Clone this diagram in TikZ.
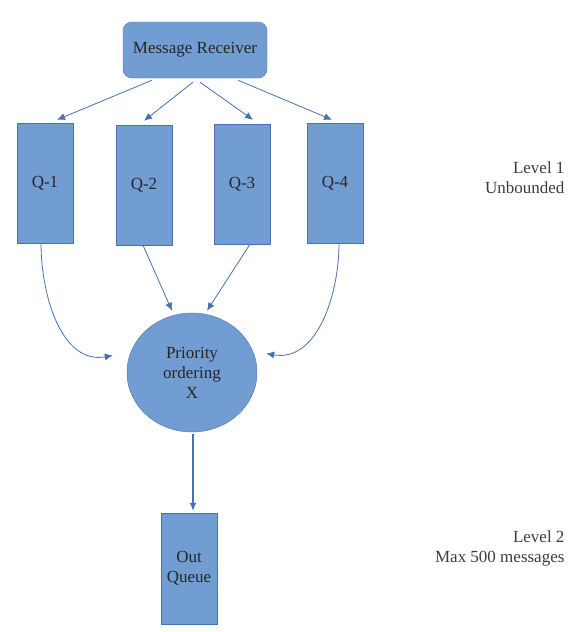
\documentclass[tikz,border=0pt]{standalone}
\usepackage{fontspec}
\setmainfont{Liberation Serif}
\usetikzlibrary{arrows.meta,shapes.geometric}
\definecolor{boxfill}{RGB}{114,157,211}
\definecolor{boxline}{RGB}{72,114,173}
\definecolor{arrowline}{RGB}{70,112,176}
\definecolor{labeltext}{RGB}{60,60,60}
\begin{document}
\begin{tikzpicture}[x=1pt,y=1pt,
    font=\fontsize{17}{20}\selectfont,
    >={Latex[length=8pt,width=7pt]},
    queuebox/.style={shape=rectangle,draw=boxline,fill=boxfill,minimum width=56pt,minimum height=120pt,inner sep=0pt,text=black!85},
    flow/.style={color=arrowline,line width=0.8pt}]
    \useasboundingbox (0,0) rectangle (580,-632);
    \node[shape=rectangle,rounded corners=9pt,draw=boxline,fill=boxfill,minimum width=144pt,minimum height=56pt,inner sep=0pt,text=black!85] (Message Receiver) at (195,-50) {Message Receiver};
    \node[queuebox] (Q-1) at (45,-183) {Q-1};
    \node[queuebox] (Q-2) at (144,-185) {Q-2};
    \node[queuebox] (Q-3) at (242,-184) {Q-3};
    \node[queuebox] (Q-4) at (335,-183) {Q-4};
    \node[shape=ellipse,draw=boxline,fill=boxfill,minimum width=130pt,minimum height=119pt,inner sep=0pt,align=center,text=black!85] (Priority ordering) at (192,-372.5) {Priority\\ordering\\X};
    \node[queuebox,minimum height=111pt,align=center] (Out Queue) at (189,-568.5) {Out\\Queue};
    \node[align=right,anchor=east,text=labeltext] (Level 1) at (568,-178) {Level 1\\Unbounded};
    \node[align=right,anchor=east,text=labeltext] (Level 2) at (568,-548) {Level 2\\Max 500 messages};


    \path [->,flow] ([xshift=-43pt,yshift=-2pt]Message Receiver.south) edge node {} ([xshift=12pt,yshift=3pt]Q-1.north);
    \path [->,flow] ([xshift=-2pt,yshift=-4pt]Message Receiver.south) edge node {} ([yshift=4pt]Q-2.north);
    \path [->,flow] ([xshift=5pt,yshift=-4pt]Message Receiver.south) edge node {} ([xshift=11pt,yshift=4pt]Q-3.north);
    \path [->,flow] ([xshift=43pt,yshift=-2pt]Message Receiver.south) edge node {} ([xshift=-3pt,yshift=3pt]Q-4.north);
    \path [->,flow] ([xshift=-4pt]Q-1.south) edge [out=-90,in=190] node {} ([shift={(-14pt,17pt)}]Priority ordering.west);
    \path [->,flow] ([xshift=-1pt]Q-2.south) edge node {} ([xshift=-20pt,yshift=2pt]Priority ordering.north);
    \path [->,flow] ([xshift=8pt]Q-3.south) edge node {} ([xshift=15pt,yshift=2pt]Priority ordering.north);
    \path [->,flow] ([xshift=4pt]Q-4.south) edge [out=-90,in=-10] node {} ([shift={(9pt,19pt)}]Priority ordering.east);
    \path [->,flow,line width=1.4pt] ([xshift=1pt,yshift=-2pt]Priority ordering.south) edge node {} ([xshift=4pt,yshift=2pt]Out Queue.north);
\end{tikzpicture}
\end{document}
